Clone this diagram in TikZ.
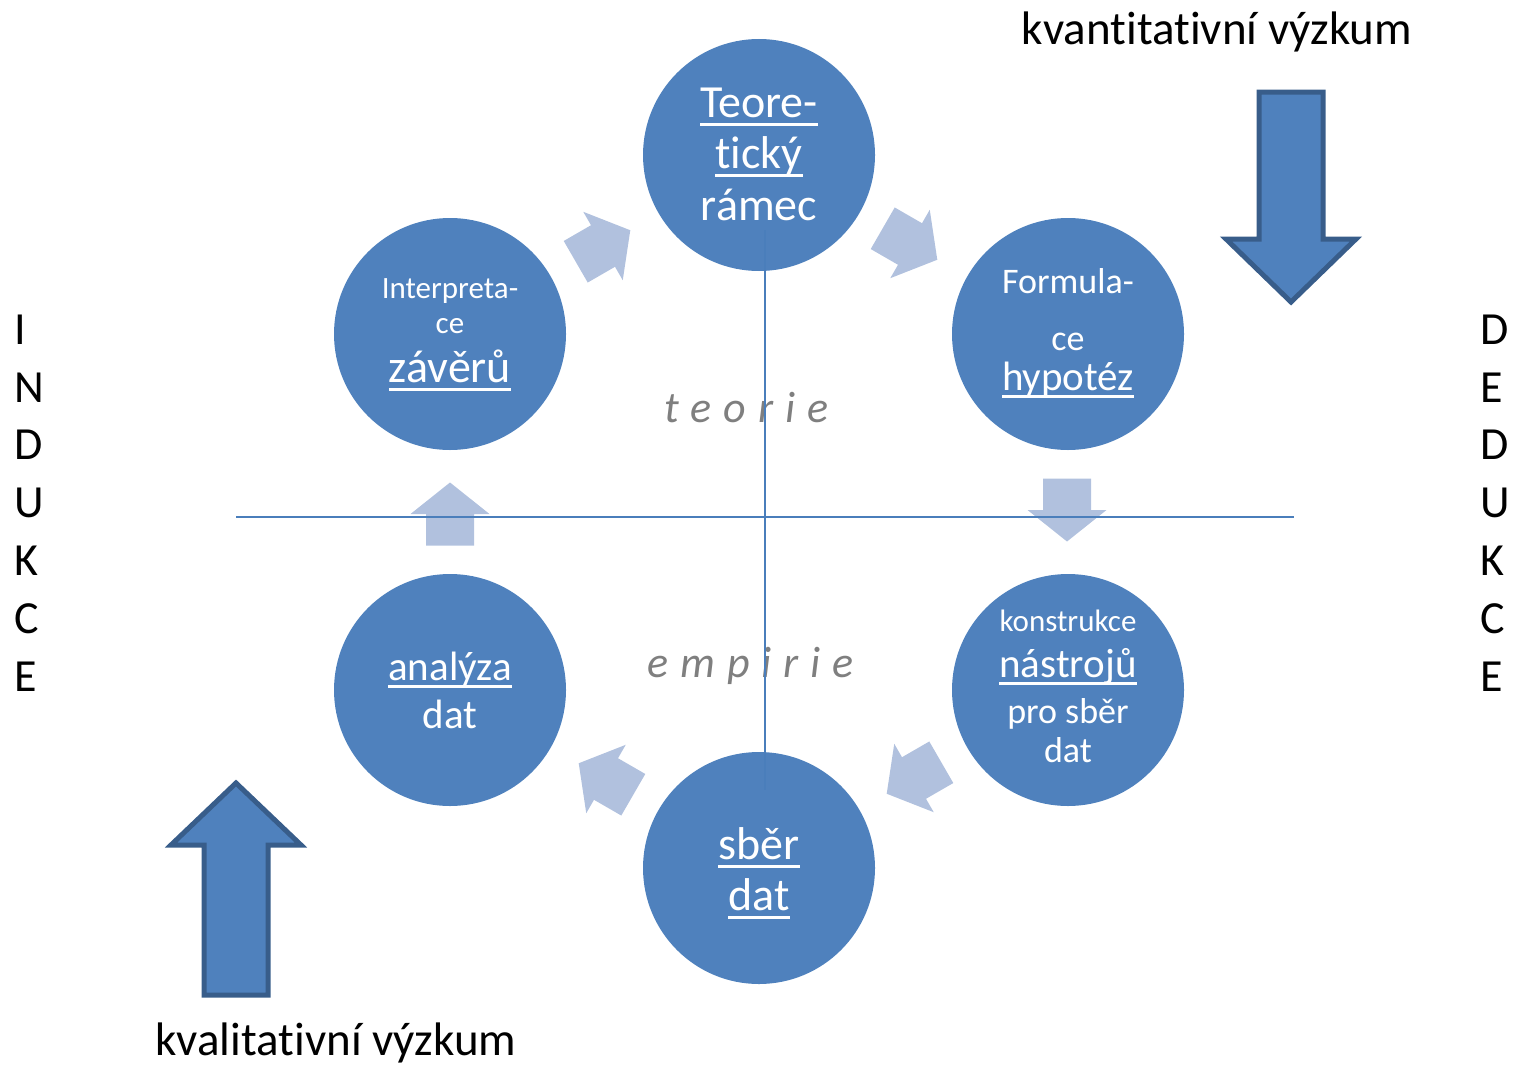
\documentclass[tikz,border=0pt]{standalone}
\usepackage{fontspec}
\setmainfont{Carlito}[Ligatures={NoCommon,NoContextual},RawFeature=-calt]
\definecolor{circ}{HTML}{4F81BD}
\definecolor{circline}{HTML}{4A7EBB}
\definecolor{lightarr}{HTML}{B1C1DE}
\definecolor{bigedge}{HTML}{385D8A}
\definecolor{labgray}{HTML}{7F7F7F}
\newcommand\myul[1]{\setbox0\hbox{#1}\rlap{\rule[-0.19em]{\wd0}{0.06em}}\box0}
\newcommand\fs[1]{\fontsize{#1}{#1}\selectfont}
\newcommand\gp{\hspace{12pt}}
\newcommand\smallarrow[3]{%
  \fill[smallarr,shift={(#1,#2)},rotate=#3]
    (-31.5,-24) -- (0,-24) -- (0,-39.5) -- (31.5,0) -- (0,39.5) -- (0,24) -- (-31.5,24) -- cycle;}
\begin{document}
\begin{tikzpicture}[x=1pt,y=-1pt,
  bub/.style={circle,fill=circ,draw=none,minimum size=232pt,inner sep=0pt},
  ctext/.style={text=white,anchor=base,inner sep=0pt},
  lbl/.style={anchor=base,inner sep=0pt},
  letter/.style={anchor=base west,inner sep=0pt,font=\fs{46}},
  spaced/.style={anchor=base west,inner sep=0pt,text=labgray,font=\fs{44}\itshape},
  axis/.style={draw=circline,line width=2pt},
  smallarr/.style={fill=lightarr,draw=none},
  bigarr/.style={fill=circ,draw=bigedge,line width=5pt,line join=miter}]
\useasboundingbox (0,0) rectangle (1518,1065);

% light cycle arrows
\smallarrow{603}{246}{30}
\smallarrow{910}{244}{-30}
\smallarrow{1067}{510}{-90}
\smallarrow{914}{778}{210}
\smallarrow{606}{779}{150}
\smallarrow{450}{514}{90}

% circles
\node[bub] (th)   at (759,155) {};
\node[bub] (int)  at (450,334) {};
\node[bub] (form) at (1068,334) {};
\node[bub] (ana)  at (450,690) {};
\node[bub] (kon)  at (1068,690) {};
\node[bub] (sber) at (759,868) {};

% circle texts
\node[ctext,font=\fs{46}] (th1) at (759,117) {\myul{Teore-}};
\node[ctext,font=\fs{46}] (th2) at (759,168) {\myul{tický}};
\node[ctext,font=\fs{46}] (th3) at (759,220) {rámec};

\node[ctext,font=\fs{31}] (in1) at (450,298) {Interpreta-};
\node[ctext,font=\fs{31}] (in2) at (450,333) {ce};
\node[ctext,font=\fs{46}] (in3) at (450,382) {\myul{závěrů}};

\node[ctext,font=\fs{36}] (fo1) at (1068,293) {Formula-};
\node[ctext,font=\fs{36}] (fo2) at (1068,350) {ce};
\node[ctext,font=\fs{41}] (fo3) at (1068,390) {\myul{hypotéz}};

\node[ctext,font=\fs{31}] (ko1) at (1068,631) {konstrukce};
\node[ctext,font=\fs{41}] (ko2) at (1068,677) {\myul{nástrojů}};
\node[ctext,font=\fs{36}] (ko3) at (1068,723) {pro sběr};
\node[ctext,font=\fs{36}] (ko4) at (1068,762) {dat};

\node[ctext,font=\fs{41}] (an1) at (450,680) {\myul{analýza}};
\node[ctext,font=\fs{41}] (an2) at (450,728) {dat};

\node[ctext,font=\fs{46}] (sb1) at (759,859) {\myul{sběr}};
\node[ctext,font=\fs{46}] (sb2) at (759,910) {\myul{dat}};

% teorie / empirie
\node[spaced] (teo) at (664,422) {t\gp e\gp o\gp r\gp i\gp e};
\node[spaced] (emp) at (647,677) {e\gp m\gp p\gp i\gp r\gp i\gp e};

% axes
\coordinate (vtop) at (765,230);
\coordinate (vbot) at (765,790);
\coordinate (hl) at (236,517);
\coordinate (hr) at (1294,517);
\draw[axis] (vtop) -- (vbot);
\draw[axis] (hl) -- (hr);

% big arrows
\draw[bigarr] (1259,92) -- (1323,92) -- (1323,239) -- (1356,239) -- (1291,302) -- (1226,239) -- (1259,239) -- cycle;
\draw[bigarr] (204,995) -- (268,995) -- (268,845) -- (301,845) -- (236,783) -- (171,845) -- (204,845) -- cycle;

% titles
\node[lbl,font=\fs{47}] (kvant) at (1217,45) {kvantitativní výzkum};
\node[lbl,font=\fs{47}] (kval) at (336,1055) {kvalitativní výzkum};

% INDUKCE
\node[letter] (i1) at (14,344) {I};
\node[letter] (i2) at (14,402) {N};
\node[letter] (i3) at (14,459) {D};
\node[letter] (i4) at (14,517) {U};
\node[letter] (i5) at (14,575) {K};
\node[letter] (i6) at (14,633) {C};
\node[letter] (i7) at (14,691) {E};
% DEDUKCE
\node[letter] (d1) at (1480,344) {D};
\node[letter] (d2) at (1480,402) {E};
\node[letter] (d3) at (1480,459) {D};
\node[letter] (d4) at (1480,517) {U};
\node[letter] (d5) at (1480,575) {K};
\node[letter] (d6) at (1480,633) {C};
\node[letter] (d7) at (1480,691) {E};
\end{tikzpicture}
\end{document}
